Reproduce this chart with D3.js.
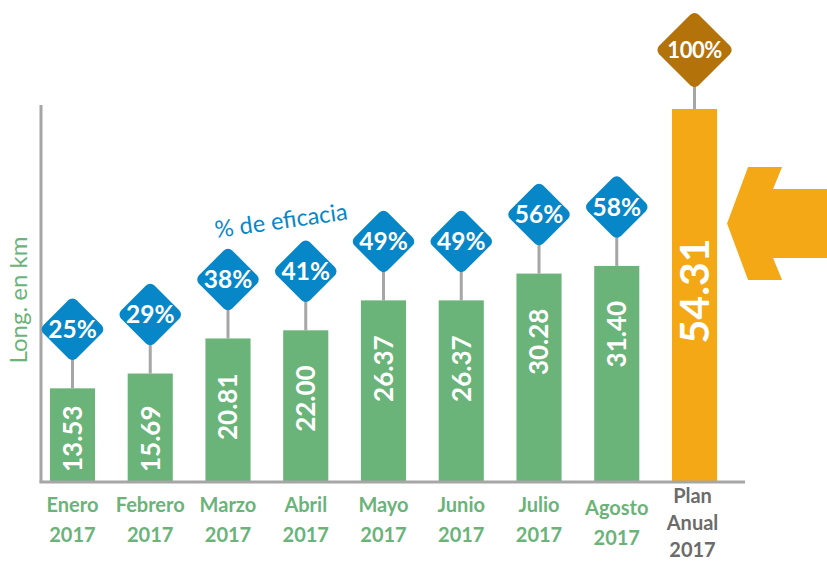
<!DOCTYPE html>
<html>
<head>
<meta charset="utf-8">
<script src="https://cdn.jsdelivr.net/npm/d3@7"></script>
<style>
  body { margin: 0; background: #fff; }
  svg { display: block; font-family: Lato, "Open Sans", sans-serif; }
</style>
</head>
<body>
<div id="chart"></div>
<script>
// data
const months = ["Enero", "Febrero", "Marzo", "Abril", "Mayo", "Junio", "Julio", "Agosto", "Plan"];
const monthLabels = [
    ["Enero", "2017"], ["Febrero", "2017"], ["Marzo", "2017"], ["Abril", "2017"],
    ["Mayo", "2017"], ["Junio", "2017"], ["Julio", "2017"], ["Agosto", "2017"],
    ["Plan", "Anual", "2017"]
];
const lengthKm = [13.53, 15.69, 20.81, 22.00, 26.37, 26.37, 30.28, 31.40, 54.31];
const efficacy = [25, 29, 38, 41, 49, 49, 56, 58, 100];
const planName = "Plan";

const width = 827, height = 562;
const green = "#6ab379", blue = "#0887c8", orange = "#f5a815", brown = "#b3720a";
const grey = "#a6a6a6";

const svg = d3.select("#chart")
    .append("svg")
    .attr("width", width)
    .attr("height", height);

const baseY = 481;
const axisX = 41;

const x = d3.scaleBand()
    .domain(months)
    .range([33.6, 733.4])
    .paddingInner(0.42)
    .paddingOuter(0.21);

const y = d3.scaleLinear()
    .domain([0, 54.31])
    .range([baseY, 109]);

const rows = months.map((m, i) => ({
    name: m, value: lengthKm[i], pct: efficacy[i], label: monthLabels[i],
    plan: m === planName
}));

// axes lines (no ticks in the original)
svg.append("line")
    .attr("x1", axisX).attr("x2", axisX)
    .attr("y1", 105).attr("y2", baseY + 1.5)
    .attr("stroke", grey).attr("stroke-width", 3);

// stems from bar top to diamond
const diamondGap = 59;
svg.selectAll(".stem")
    .data(rows)
    .enter().append("line")
    .attr("class", "stem")
    .attr("x1", d => x(d.name) + x.bandwidth() / 2)
    .attr("x2", d => x(d.name) + x.bandwidth() / 2)
    .attr("y1", d => y(d.value))
    .attr("y2", d => y(d.value) - diamondGap)
    .attr("stroke", grey)
    .attr("stroke-width", 3);

// bars
svg.selectAll(".bar")
    .data(rows)
    .enter().append("rect")
    .attr("class", "bar")
    .attr("x", d => x(d.name))
    .attr("y", d => y(d.value))
    .attr("width", x.bandwidth())
    .attr("height", d => baseY - y(d.value))
    .attr("fill", d => d.plan ? orange : green);

svg.append("line")
    .attr("x1", axisX - 1.5).attr("x2", 745)
    .attr("y1", baseY + 1).attr("y2", baseY + 1)
    .attr("stroke", grey).attr("stroke-width", 3);

// values inside bars, rotated
svg.selectAll(".val")
    .data(rows)
    .enter().append("text")
    .attr("class", "val")
    .attr("fill", "#fff")
    .attr("font-weight", "bold")
    .attr("font-size", d => d.plan ? 41 : 26)
    .attr("dy", "0.36em")
    .attr("text-anchor", d => d.plan ? "middle" : "end")
    .text(d => d.value.toFixed(2))
    .attr("transform", function(d) {
        const cx = x(d.name) + x.bandwidth() / 2;
        if (d.plan) return `translate(${cx},${(y(d.value) + baseY) / 2 - 4}) rotate(-90)`;
        const len = this.getComputedTextLength();
        const yEnd = Math.min(y(d.value) + 35, baseY - 9 - len);
        return `translate(${cx},${yEnd}) rotate(-90)`;
    });

// diamonds with percentages
const diamonds = svg.selectAll(".diamond")
    .data(rows)
    .enter().append("g")
    .attr("class", "diamond")
    .attr("transform", d => `translate(${x(d.name) + x.bandwidth() / 2},${y(d.value) - diamondGap})`);

diamonds.append("rect")
    .attr("x", d => d.plan ? -28 : -23.5)
    .attr("y", d => d.plan ? -28 : -23.5)
    .attr("width", d => d.plan ? 56 : 47)
    .attr("height", d => d.plan ? 56 : 47)
    .attr("rx", 6)
    .attr("transform", "rotate(45)")
    .attr("fill", d => d.plan ? brown : blue);

diamonds.append("text")
    .attr("text-anchor", "middle")
    .attr("dy", "0.36em")
    .attr("fill", "#fff")
    .attr("font-weight", "bold")
    .attr("font-size", d => d.plan ? 22 : 24.5)
    .attr("letter-spacing", d => d.plan ? -0.5 : 0)
    .text(d => d.pct + "%");

// category labels
const cats = svg.selectAll(".cat")
    .data(rows)
    .enter().append("text")
    .attr("class", "cat")
    .attr("text-anchor", "middle")
    .attr("font-weight", "bold")
    .attr("font-size", 20)
    .attr("fill", d => d.plan ? "#6b6b6b" : green);

cats.selectAll("tspan")
    .data(d => d.label.map((t, i) => ({ t, i, d })))
    .enter().append("tspan")
    .attr("x", s => x(s.d.name) + x.bandwidth() / 2 - (s.d.plan ? 2 : 0))
    .attr("y", s => s.d.plan ? 503 + s.i * 27 : (s.d.name === "Agosto" ? 515 : 512) + s.i * 30)
    .text(s => s.t);

// axis title
svg.append("text")
    .attr("transform", "translate(27,300) rotate(-90)")
    .attr("text-anchor", "middle")
    .attr("font-size", 24)
    .attr("fill", green)
    .text("Long. en km");

svg.append("text")
    .attr("transform", "translate(216,238) rotate(-8)")
    .attr("font-size", 23.5)
    .attr("fill", blue)
    .text("% de eficacia");

// big arrow pointing at the plan bar
const tipX = x(planName) + x.bandwidth() + 10;
const tipY = 223.5;
const arrow = [
    [tipX, tipY], [tipX + 21, tipY - 56.5], [tipX + 55, tipY - 56.5],
    [tipX + 46, tipY - 34.5], [width, tipY - 34.5], [width, tipY + 34.5],
    [tipX + 46, tipY + 34.5], [tipX + 55, tipY + 56.5], [tipX + 21, tipY + 56.5]
];
svg.append("path")
    .attr("d", d3.line()(arrow) + "Z")
    .attr("fill", orange);
</script>
</body>
</html>
